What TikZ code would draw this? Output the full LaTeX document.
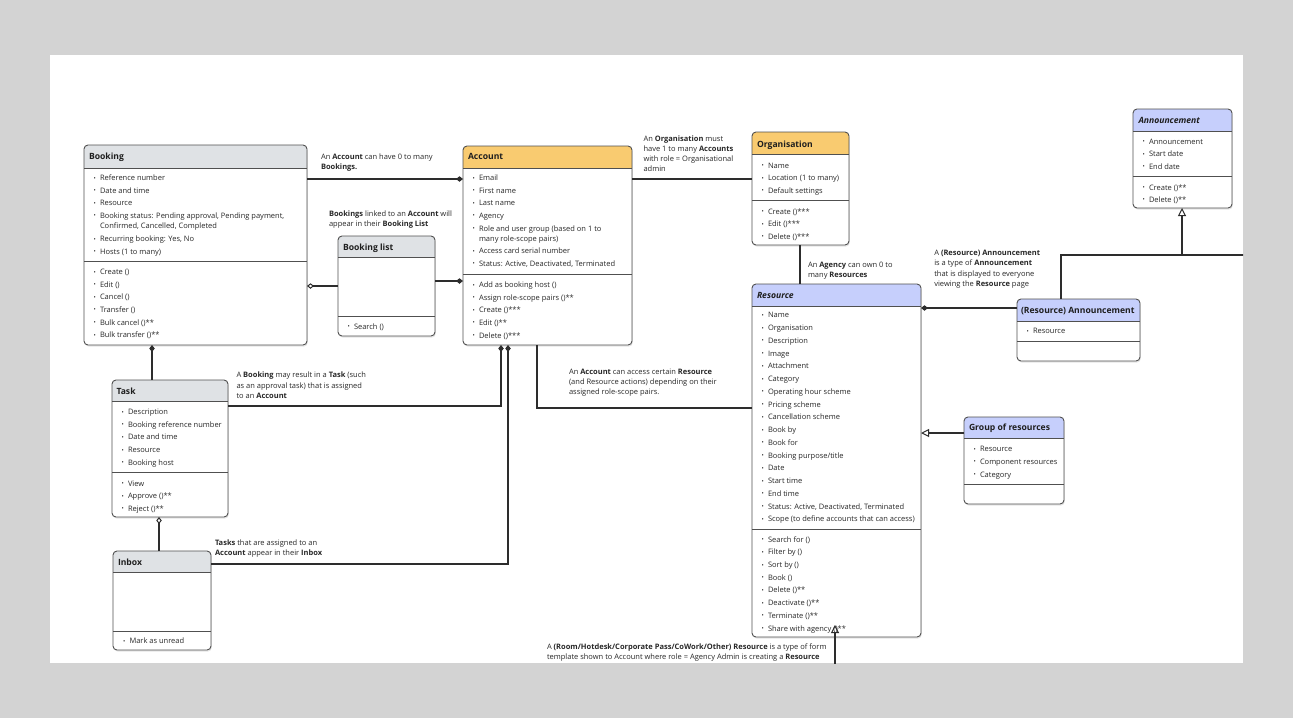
\documentclass[tikz,border=0pt]{standalone}
\usepackage{fontspec}
\setmainfont{Open Sans}
\usetikzlibrary{arrows.meta}
\definecolor{framegray}{RGB}{211,211,211}
\definecolor{hgray}{RGB}{223,226,229}
\definecolor{horange}{RGB}{249,203,112}
\definecolor{hblue}{RGB}{198,207,252}
\definecolor{edgec}{RGB}{80,80,80}
\definecolor{wirec}{RGB}{45,45,45}
\definecolor{inkc}{RGB}{40,40,40}
\newcommand{\bul}{\llap{\raisebox{0.5pt}{\fontsize{6}{6}\selectfont •}\hspace{4.2pt}}}
\tikzset{
  txt/.style={anchor=base west, inner sep=0pt, outer sep=0pt, font=\fontsize{7.5}{9}\selectfont, text=inkc},
  ttl/.style={anchor=base west, inner sep=0pt, outer sep=0pt, font=\fontsize{8.6}{10}\selectfont\bfseries, text=black!88},
  ttli/.style={ttl, font=\fontsize{8.6}{10}\selectfont\bfseries\itshape},
  boxnode/.style={inner sep=0pt, outer sep=0pt, anchor=north west, rectangle},
  boxedge/.style={draw=edgec, line width=0.9pt},
  wire/.style={draw=wirec, line width=1.1pt},
  fdia/.tip={Diamond[length=7pt,width=5.5pt]},
  odia/.tip={Diamond[open,length=7pt,width=5.5pt,line width=1pt]},
  otri/.tip={Triangle[open,length=8pt,width=8pt,line width=1pt]},
}
% name, x1, y1, x2, y2, header bottom, divider, header colour
\newcommand{\umlclass}[8]{%
  \fill[black, opacity=0.10, rounded corners=4pt] ({#2+0.8},{#3+1.6}) rectangle ({#4+0.8},{#5+1.6});
  \fill[white, rounded corners=4pt] (#2,#3) rectangle (#4,#5);
  \begin{scope}
    \clip[rounded corners=4pt] (#2,#3) rectangle (#4,#5);
    \fill[#8] (#2,#3) rectangle (#4,#6);
  \end{scope}
  \draw[boxedge] (#2,#6) -- (#4,#6);
  \draw[boxedge] (#2,#7) -- (#4,#7);
  \draw[boxedge, rounded corners=4pt] (#2,#3) rectangle (#4,#5);
  \node[boxnode, minimum width={(#4)-(#2)}, minimum height={(#5)-(#3)}] (#1) at (#2,#3) {};
}
% prefix, x, first baseline, step, list
\newcommand{\items}[5]{\foreach \ii [count=\cnt from 0] in {#5} {\node[txt] (#1-\cnt) at (#2,{#3+#4*\cnt}) {\bul\ii};}}
\newcommand{\lbl}[4]{\foreach \ii [count=\cnt from 0] in {#4} {\node[txt] (#1-\cnt) at (#2,{#3+10.25*\cnt}) {\ii};}}
\begin{document}
\begin{tikzpicture}[x=1pt,y=-1pt]
\fill[framegray] (0,0) rectangle (1293,718);
\fill[white] (50,55) rectangle (1243,663);
\useasboundingbox (0,0) rectangle (1293,718);
\begin{scope}
\clip (50,55) rectangle (1243,663);

% ---------- Booking
\umlclass{booking}{84}{145}{307}{345}{168}{261}{hgray}
\node[ttl] (booking-t) at (89,159.3) {Booking};
\items{bka}{100}{180.5}{12.65}{Reference number, Date and time, Resource, {Booking status: Pending approval, Pending payment,}}
\node[txt] (bka-c) at (100,228.8) {Confirmed, Cancelled, Completed};
\items{bkb}{100}{241.8}{12.65}{{Recurring booking: Yes, No}, Hosts (1 to many)}
\items{bkm}{100}{274.5}{12.65}{Create (), Edit (), Cancel (), Transfer (), Bulk cancel ()**, Bulk transfer ()**}

% ---------- Booking list
\umlclass{blist}{338}{236}{435}{336}{257}{316}{hgray}
\node[ttl] (blist-t) at (343,250) {Booking list};
\items{blm}{354}{329}{12.65}{Search ()}

% ---------- Account
\umlclass{account}{463}{146}{632}{345}{168}{274}{horange}
\node[ttl] (account-t) at (468,159.3) {Account};
\items{aca}{479}{180.5}{12.65}{Email, First name, Last name, Agency, Role and user group (based on 1 to}
\node[txt] (aca-c) at (479,241.6) {many role-scope pairs)};
\items{acb}{479}{253.8}{12.65}{Access card serial number, {Status: Active, Deactivated, Terminated}}
\items{acm}{479}{287.6}{12.6}{Add as booking host (), Assign role-scope pairs ()**, Create ()***, Edit ()**, Delete ()***}

% ---------- Organisation
\umlclass{org}{752}{132}{849}{245}{154}{200}{horange}
\node[ttl] (org-t) at (757,147.3) {Organisation};
\items{oga}{768}{168}{12.6}{Name, Location (1 to many), Default settings}
\items{ogm}{768}{214}{12.5}{Create ()***, Edit ()***, Delete ()***}

% ---------- Announcement
\umlclass{announce}{1133}{109}{1232}{208}{131}{176}{hblue}
\node[ttli] (announce-t) at (1138.5,123.3) {Announcement};
\items{ana}{1149}{144.2}{12.5}{Announcement, Start date, End date}
\items{anm}{1149}{190}{12.4}{Create ()**, Delete ()**}

% ---------- Resource
\umlclass{resource}{752}{284}{921}{637}{306}{529}{hblue}
\node[ttli] (resource-t) at (757,298.3) {Resource};
\items{rsa}{768}{317.8}{12.75}{Name, Organisation, Description, Image, Attachment, Category, Operating hour scheme, Pricing scheme, Cancellation scheme, Book by, Book for, Booking purpose/title, Date, Start time, End time, {Status: Active, Deactivated, Terminated}, Scope (to define accounts that can access)}
\items{rsm}{768}{542.1}{12.7}{Search for (), Filter by (), Sort by (), Book (), Delete ()**, Deactivate ()**, Terminate ()**, Share with agency ()**}

% ---------- (Resource) Announcement
\umlclass{ranno}{1017}{299}{1140}{361}{321}{341}{hblue}
\node[ttl] (ranno-t) at (1021,313.6) {(Resource) Announcement};
\items{raa}{1033}{333.8}{12.6}{Resource}

% ---------- Group of resources
\umlclass{group}{964}{417}{1064}{504}{438}{484}{hblue}
\node[ttl] (group-t) at (969,430.6) {Group of resources};
\items{gra}{980}{451.8}{12.65}{Resource, Component resources, Category}

% ---------- Task
\umlclass{task}{112}{380}{228}{517}{401}{472}{hgray}
\node[ttl] (task-t) at (116.5,394.3) {Task};
\items{tka}{128}{414.5}{12.7}{Description, Booking reference number, Date and time, Resource, Booking host}
\items{tkm}{128}{486.2}{12.5}{View, Approve ()**, Reject ()**}

% ---------- Inbox
\umlclass{inbox}{113}{551}{211}{650}{572}{631}{hgray}
\node[ttl] (inbox-t) at (118,565) {Inbox};
\items{ibm}{129.5}{643.8}{12.6}{Mark as unread}

% ---------- labels
\lbl{l1}{321}{159.5}{An \textbf{Account} can have 0 to many, \textbf{Bookings.}}
\lbl{l2}{329}{216.2}{\textbf{Bookings} linked to an \textbf{Account} will, appear in their \textbf{Booking List}}
\lbl{l3}{643.5}{141.1}{An \textbf{Organisation} must, have 1 to many \textbf{Accounts}, with role = Organisational, admin}
\lbl{l4}{808}{267}{An \textbf{Agency} can own 0 to, many \textbf{Resources}}
\lbl{l5}{236.5}{377.8}{A \textbf{Booking} may result in a \textbf{Task} (such, as an approval task) that is assigned, to an \textbf{Account}}
\lbl{l6}{569}{374}{An \textbf{Account} can access certain \textbf{Resource}, (and Resource actions) depending on their, assigned role-scope pairs.}
\lbl{l7}{215}{545}{\textbf{Tasks} that are assigned to an, \textbf{Account} appear in their \textbf{Inbox}}
\lbl{l8}{934.3}{255.5}{A \textbf{(Resource) Announcement}, is a type of \textbf{Announcement}, that is displayed to everyone, viewing the \textbf{Resource} page}
\lbl{l9}{547}{649.5}{A \textbf{(Room/Hotdesk/Corporate Pass/CoWork/Other) Resource} is a type of form, template shown to Account where role = Agency Admin is creating a \textbf{Resource}}

% ---------- free ends
\coordinate (rightend) at (1250,255);
\coordinate (annjoin) at (1182,255);
\coordinate (bottomend) at (835,670);
\coordinate (restip) at (835,625);

% ---------- connectors
\draw[wire,-fdia] (booking.east |- 0,179) -- (account.west |- 0,179);
\draw[wire,odia-] (booking.east |- 0,286) -- (blist.west |- 0,286);
\draw[wire,-fdia] (blist.east |- 0,281) -- (account.west |- 0,281);
\draw[wire] (account.east |- 0,179) -- (org.west |- 0,179);
\draw[wire] (org.south -| 800,0) -- (resource.north -| 800,0);
\draw[wire,fdia-] (booking.south -| 152,0) -- (task.north -| 152,0);
\draw[wire,-fdia] (task.east |- 0,406) -| (account.south -| 501,0);
\draw[wire,-fdia] (inbox.east |- 0,564) -| (account.south -| 508,0);
\draw[wire] (account.south -| 537,0) |- (resource.west |- 0,408);
\draw[wire,odia-] (task.south -| 159,0) -- (inbox.north -| 159,0);
\draw[wire,fdia-] (resource.east |- 0,308) -- (ranno.west |- 0,308);
\draw[wire] (ranno.north -| 1061,0) |- (rightend);
\draw[wire,-otri] (annjoin) -- (announce.south -| 1182,0);
\draw[wire,-otri] (group.west |- 0,433) -- (resource.east |- 0,433);
\draw[wire,-otri] (bottomend) -- (restip);
\end{scope}
\end{tikzpicture}
\end{document}
